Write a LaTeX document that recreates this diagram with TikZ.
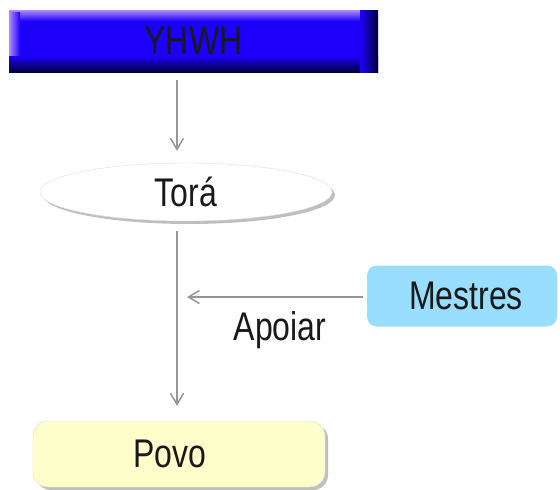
\documentclass[tikz,border=0pt]{standalone}
\usepackage{fontspec}
\newfontfamily\lbl{Liberation Sans}[FakeStretch=0.8]
\usetikzlibrary{shapes.geometric,arrows.meta,shadows}
\definecolor{ybase}{RGB}{28,0,250}
\definecolor{ylight}{RGB}{175,140,255}
\definecolor{ydark}{RGB}{0,0,55}
\definecolor{mblue}{RGB}{153,221,255}
\definecolor{pyellow}{RGB}{255,255,204}
\definecolor{lgray}{RGB}{150,150,150}
\tikzset{
  txt/.style={font=\lbl\fontsize{40}{44}\selectfont, text=black!90},
  arr/.style={draw=lgray, line width=2pt, -{Straight Barb[length=11pt,width=13pt,line width=1.5pt]}},
  shd/.style={drop shadow={opacity=0.5, shadow xshift=3pt, shadow yshift=-3pt}},
}
\begin{document}
\begin{tikzpicture}[x=1pt,y=-1pt]
\useasboundingbox (0,0) rectangle (560,490);
% YHWH bevelled bar
\fill[ybase] (9,10) rectangle (378,72);
\shade[top color=ylight, bottom color=ybase] (9,10) rectangle (366,21);
\shade[left color=ylight, right color=ybase] (9,12) rectangle (20,62);
\shade[top color=ybase, bottom color=ydark] (9,56) rectangle (378,72);
\shade[left color=ybase, right color=ydark] (360,10) rectangle (378,72);
\node[txt, minimum width=369pt, minimum height=62pt, inner sep=0pt] (yhwh) at (193.5,41) {YHWH};
% Tora
\node[txt, ellipse, shd, fill=white, draw=gray!25, minimum width=292pt, minimum height=58pt, inner sep=0pt] (tora) at (186,192) {Torá};
% Mestres
\node[txt, fill=mblue, rounded corners=10pt, minimum width=190pt, minimum height=61pt, inner sep=0pt, text width=190pt, align=center] (mestres) at (462,296) {\hspace{8pt}Mestres};
% Povo
\node[txt, fill=pyellow, draw=gray!30, rounded corners=15pt, shd, minimum width=292pt, minimum height=66pt, inner sep=0pt] (povo) at (179,454) {\hspace{-18pt}Povo};
% connectors
\draw[arr, shorten <=8pt, shorten >=12pt] ([xshift=-2pt]povo.north |- yhwh.south) -- ([xshift=-2pt]povo.north |- tora.north);
\draw[arr, shorten <=10pt, shorten >=15pt] ([xshift=-2pt]povo.north |- tora.south) -- ([xshift=-2pt]povo.north);
\coordinate (hit) at (187,297);
\draw[arr, shorten <=4pt] (mestres.west |- hit) -- (hit);
\node[txt, inner sep=0pt] (apoiar) at (280,330) {Apoiar};
\end{tikzpicture}
\end{document}
